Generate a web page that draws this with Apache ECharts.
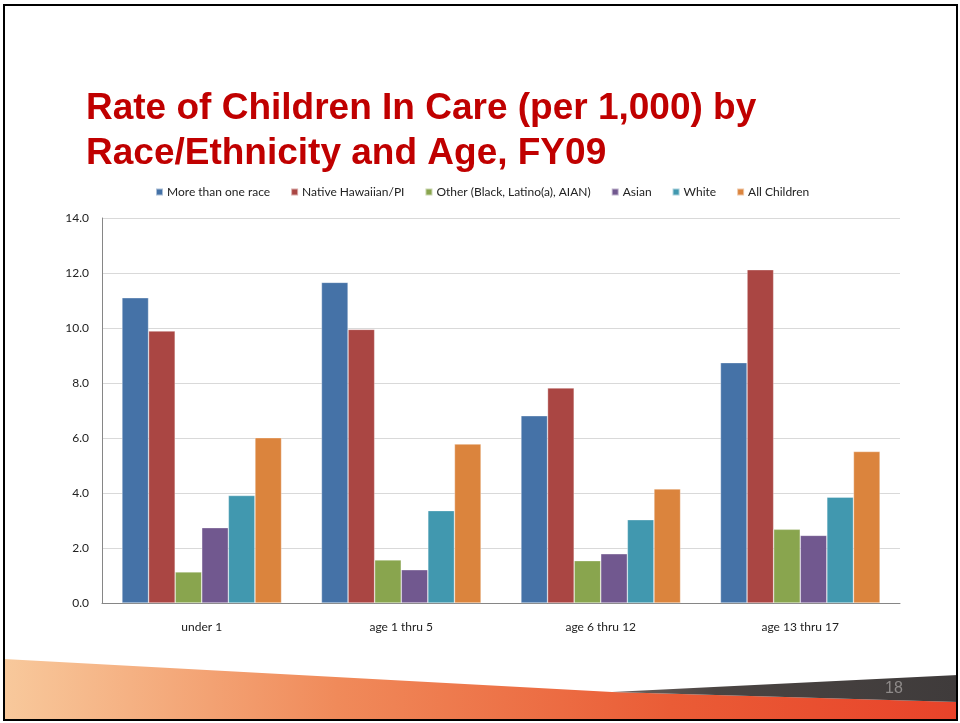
<!DOCTYPE html>
<html><head><meta charset="utf-8">
<script src="https://cdn.jsdelivr.net/npm/echarts@6/dist/echarts.min.js"></script>
<style>html,body{margin:0;padding:0;background:#fff}#c{width:960px;height:723px}</style>
</head><body><div id="c"></div>
<script>
const categories = ['under 1', 'age 1 thru 5', 'age 6 thru 12', 'age 13 thru 17'];
const seriesNames = ['More than one race', 'Native Hawaiian/PI', 'Other (Black, Latino(a), AIAN)', 'Asian', 'White', 'All Children'];
const moreThanOne = [11.10, 11.66, 6.81, 8.74];
const nativeHawaiian = [9.89, 9.95, 7.82, 12.12];
const other = [1.13, 1.57, 1.54, 2.68];
const asian = [2.74, 1.21, 1.79, 2.46];
const white = [3.91, 3.36, 3.03, 3.85];
const allChildren = [6.01, 5.78, 4.15, 5.51];
const colors = ['#4572A7', '#AA4643', '#89A54E', '#71588F', '#4198AF', '#DB843D'];
const values = [moreThanOne, nativeHawaiian, other, asian, white, allChildren];

const chart = echarts.init(document.getElementById('c'), null, {renderer: 'canvas'});
const font = 'Lato, "Open Sans", sans-serif';
chart.setOption({
  backgroundColor: '#fff',
  animation: false,
  color: colors,
  title: {
    text: 'Rate of Children In Care (per 1,000) by\nRace/Ethnicity and Age, FY09',
    left: 81, top: 81,
    textStyle: {fontFamily: '"Liberation Sans", Arial, sans-serif', fontWeight: 'bold', fontSize: 37, lineHeight: 45, color: '#C00000'}
  },
  legend: {
    left: 150, top: 181,
    itemWidth: 7, itemHeight: 7, itemGap: 20,
    icon: 'rect',
    textStyle: {fontFamily: font, fontSize: 12, color: '#222', padding: [0,0,0,-1]},
    data: seriesNames
  },
  grid: {left: 102, right: 60, top: 218, bottom: 120},
  xAxis: {
    type: 'category', data: categories,
    axisLine: {lineStyle: {color: '#868686', width: 1}},
    axisTick: {show: false},
    axisLabel: {fontFamily: font, fontSize: 12, color: '#222', margin: 18}
  },
  yAxis: {
    type: 'value', min: 0, max: 14, interval: 2,
    axisLine: {show: true, lineStyle: {color: '#868686', width: 1}},
    axisTick: {show: false},
    splitLine: {lineStyle: {color: '#d9d9d9', width: 1}},
    axisLabel: {fontFamily: font, fontSize: 12, color: '#222', margin: 13, formatter: v => v.toFixed(1)}
  },
  series: seriesNames.map((n, i) => ({
    name: n, type: 'bar', data: values[i],
    barGap: '0%', barCategoryGap: '20%',
    itemStyle: {color: colors[i], borderColor: 'rgba(255,255,255,0.55)', borderWidth: 0.6}
  })),
  graphic: [
    {type: 'polygon', z: 100, silent: true,
     shape: {points: [[4,659],[612,692],[958,702],[958,719],[4,719]]},
     style: {fill: new echarts.graphic.LinearGradient(0,0,1,0.3,[
       {offset:0,color:'#f8c99c'},{offset:0.35,color:'#f08a5a'},{offset:0.7,color:'#ea5c36'},{offset:1,color:'#e8432a'}])}},
    {type: 'polygon', z: 101, silent: true,
     shape: {points: [[612,692],[958,675],[958,702]]},
     style: {fill: new echarts.graphic.LinearGradient(0,0,1,0,[
       {offset:0,color:'#6e6460'},{offset:0.3,color:'#4a4442'},{offset:1,color:'#3f3b3b'}])}},
    {type: 'text', z: 102, silent: true, left: 885, top: 681,
     style: {text: '18', fill: '#8e8a89', font: '16px "Liberation Sans Narrow", "Liberation Sans", sans-serif'}},
    {type: 'rect', z: 110, silent: true,
     shape: {x: 4, y: 5, width: 953, height: 715},
     style: {fill: 'none', stroke: '#000', lineWidth: 2}}
  ]
});
</script></body></html>
